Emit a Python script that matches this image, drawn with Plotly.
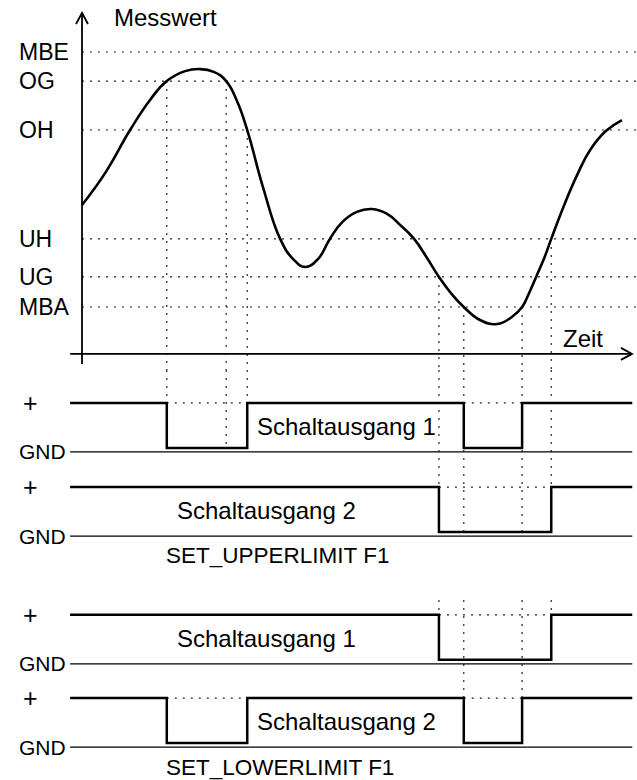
import plotly.graph_objects as go

# ---------------- data ----------------
# measured value over time (time 0..100, value in % of range MBA..MBE)
zeit = [0.0, 4.4, 8.9, 12.6, 15.7, 19.1, 21.9, 24.4, 26.7, 28.7, 30.6, 33.5, 36.7,
        39.1, 41.3, 43.7, 45.9, 48.2, 50.9, 53.7, 56.5, 58.9, 61.5, 63.9, 66.1,
        68.3, 70.7, 73.7, 76.9, 79.6, 81.5, 82.8, 84.1, 85.6, 86.9, 89.3, 91.7,
        94.1, 97.0, 100.0]
messwert = [40.0, 52.9, 69.4, 81.2, 88.6, 92.5, 93.3, 92.2, 88.6, 80.8, 69.4, 47.1, 26.7,
            18.8, 15.7, 18.8, 26.7, 33.3, 37.3, 38.4, 36.5, 32.2, 26.7, 19.2, 11.8,
            5.5, 0.0, -5.1, -6.7, -3.9, 0.0, 5.5, 11.8, 19.2, 26.7, 40.0, 51.8,
            61.6, 69.0, 73.3]

grenz_namen = ["MBE", "OG", "OH", "UH", "UG", "MBA"]
grenz_werte = [100, 88.6, 69.4, 26.7, 11.8, 0]

# crossing events of the curve with limits
kreuz_zeit = [15.7, 26.7, 30.6, 66.1, 70.7, 81.5, 86.9]
kreuz_grenze = ["OG", "OG", "OH", "UG", "MBA", "MBA", "UH"]

t_start, t_end = -2.2, 101.9

# switching outputs: edge times and states (1 = "+", 0 = GND)
upper_q1_t = [t_start, 15.7, 30.6, 70.7, 81.5, t_end]
upper_q1_s = [1, 0, 1, 0, 1, 1]
upper_q2_t = [t_start, 66.1, 86.9, t_end]
upper_q2_s = [1, 0, 1, 1]
lower_q1_t = [t_start, 66.1, 86.9, t_end]
lower_q1_s = [1, 0, 1, 1]
lower_q2_t = [t_start, 15.7, 30.6, 70.7, 81.5, t_end]
lower_q2_s = [1, 0, 1, 0, 1, 1]

# ---------------- layout constants ----------------
FONT = "Liberation Sans, Arial, Helvetica, sans-serif"
W, H = 637, 780
X_RANGE = [-15.185, 102.778]
Y_RANGE = [-24.71, 120.39]
Y_DOMAIN = [1 - 370 / H, 1.0]
Y2_RANGE = [0.0, 9.111]
Y2_DOMAIN = [0.0, 1 - 370 / H]
GND_OFF = -0.09
DOT = "2px,6px"
DOTCOL = "#222"


def px(x_page):
    """horizontal page position -> paper fraction (text anchor)"""
    return x_page / W


rows = [
    ("upper_q1", upper_q1_t, upper_q1_s, 7.38, "Schaltausgang 1", 258),
    ("upper_q2", upper_q2_t, upper_q2_s, 5.51, "Schaltausgang 2", 178),
    ("lower_q1", lower_q1_t, lower_q1_s, 2.67, "Schaltausgang 1", 178),
    ("lower_q2", lower_q2_t, lower_q2_s, 0.82, "Schaltausgang 2", 258),
]
base = {r[0]: r[3] for r in rows}
grenze = dict(zip(grenz_namen, grenz_werte))

fig = go.Figure()

# measured curve
fig.add_trace(go.Scatter(x=zeit, y=messwert, mode="lines",
                         line=dict(color="#000", width=2.6, shape="spline", smoothing=1.3),
                         hoverinfo="skip", xaxis="x", yaxis="y"))

shapes = []
annotations = []


def label(text, x, y, yref, size, anchor="left"):
    annotations.append(dict(text=text, xref="paper", yref=yref, x=x, y=y,
                            xanchor=anchor, yanchor="middle", showarrow=False,
                            borderpad=0, borderwidth=0,
                            font=dict(family=FONT, size=size, color="#000")))


# limit lines and labels
for name, val in zip(grenz_namen, grenz_werte):
    shapes.append(dict(type="line", xref="x", yref="y", x0=0, x1=X_RANGE[1], y0=val, y1=val,
                       line=dict(color=DOTCOL, width=1.2, dash=DOT), layer="below"))
    label(name, px(19), val, "y", 23)

# axes of the top diagram
y_ax_bot, y_ax_top = -22.35, 115.3
x_ax_level = -18.4
shapes.append(dict(type="line", xref="x", yref="y", x0=0, x1=0, y0=y_ax_bot, y1=y_ax_top,
                   line=dict(color="#000", width=1.8)))
shapes.append(dict(type="line", xref="x", yref="y", x0=t_start, x1=101.85, y0=x_ax_level, y1=x_ax_level,
                   line=dict(color="#000", width=1.8)))
shapes.append(dict(type="path", xref="x", yref="y", xsizemode="pixel", ysizemode="pixel",
                   xanchor=0, yanchor=y_ax_top, path="M -6,-11 L 0,0 L 6,-11",
                   line=dict(color="#000", width=1.8)))
shapes.append(dict(type="path", xref="x", yref="y", xsizemode="pixel", ysizemode="pixel",
                   xanchor=101.85, yanchor=x_ax_level, path="M -11,6 L 0,0 L -11,-6",
                   line=dict(color="#000", width=1.8)))
label("Messwert", px(114), 113.6, "y", 24)
label("Zeit", px(563), -12.2, "y", 24)

# switching outputs
for key, ts, ss, b, text, lx in rows:
    fig.add_trace(go.Scatter(x=ts, y=[b + s for s in ss], mode="lines",
                             line=dict(color="#000", width=2.5, shape="hv"),
                             hoverinfo="skip", xaxis="x", yaxis="y2"))
    # GND reference line
    shapes.append(dict(type="line", xref="x", yref="y2", x0=t_start, x1=t_end,
                       y0=b + GND_OFF, y1=b + GND_OFF, line=dict(color="#000", width=1.3)))
    # dotted "+" level during low phases
    for i in range(len(ts) - 1):
        if ss[i] == 0:
            shapes.append(dict(type="line", xref="x", yref="y2", x0=ts[i], x1=ts[i + 1],
                               y0=b + 1, y1=b + 1,
                               line=dict(color=DOTCOL, width=1.2, dash=DOT), layer="below"))
    label("+", px(30), b + 1, "y2", 25, anchor="center")
    label("GND", px(19), b + GND_OFF, "y2", 21)
    label(text, px(lx - 1), b + 0.47, "y2", 24)

label("SET_UPPERLIMIT F1", px(166), base["upper_q2"] - 0.52, "y2", 22.5)
label("SET_LOWERLIMIT F1", px(166), base["lower_q2"] - 0.55, "y2", 22.5)

# dotted connectors from crossings down to the switching outputs
upper_target = [base["upper_q1"] + 1, base["upper_q1"], base["upper_q1"] + 1,
                base["upper_q2"] + GND_OFF, base["upper_q2"] + GND_OFF,
                base["upper_q2"] + GND_OFF, base["upper_q2"] + GND_OFF]
lower_target = [None, None, None, base["lower_q1"] + 1, base["lower_q2"] + 1,
                base["lower_q2"] + 1, base["lower_q1"] + 1]
lower_start = 4.0
for t, g, ut, lt in zip(kreuz_zeit, kreuz_grenze, upper_target, lower_target):
    shapes.append(dict(type="line", xref="x", yref="y", x0=t, x1=t, y0=grenze[g], y1=Y_RANGE[0],
                       line=dict(color=DOTCOL, width=1.2, dash=DOT), layer="below"))
    shapes.append(dict(type="line", xref="x", yref="y2", x0=t, x1=t, y0=Y2_RANGE[1], y1=ut,
                       line=dict(color=DOTCOL, width=1.2, dash=DOT), layer="below"))
    if lt is not None:
        shapes.append(dict(type="line", xref="x", yref="y2", x0=t, x1=t, y0=lower_start, y1=lt,
                           line=dict(color=DOTCOL, width=1.2, dash=DOT), layer="below"))

fig.update_layout(
    width=W, height=H, margin=dict(l=0, r=0, t=0, b=0),
    paper_bgcolor="white", plot_bgcolor="white", showlegend=False,
    xaxis=dict(range=X_RANGE, visible=False, fixedrange=True),
    yaxis=dict(range=Y_RANGE, domain=Y_DOMAIN, visible=False, fixedrange=True),
    yaxis2=dict(range=Y2_RANGE, domain=Y2_DOMAIN, visible=False, fixedrange=True),
    shapes=shapes, annotations=annotations,
)

fig.write_html("out.html", config={"displayModeBar": False},
               post_script="document.body.style.margin='0';document.body.style.overflow='hidden';")
